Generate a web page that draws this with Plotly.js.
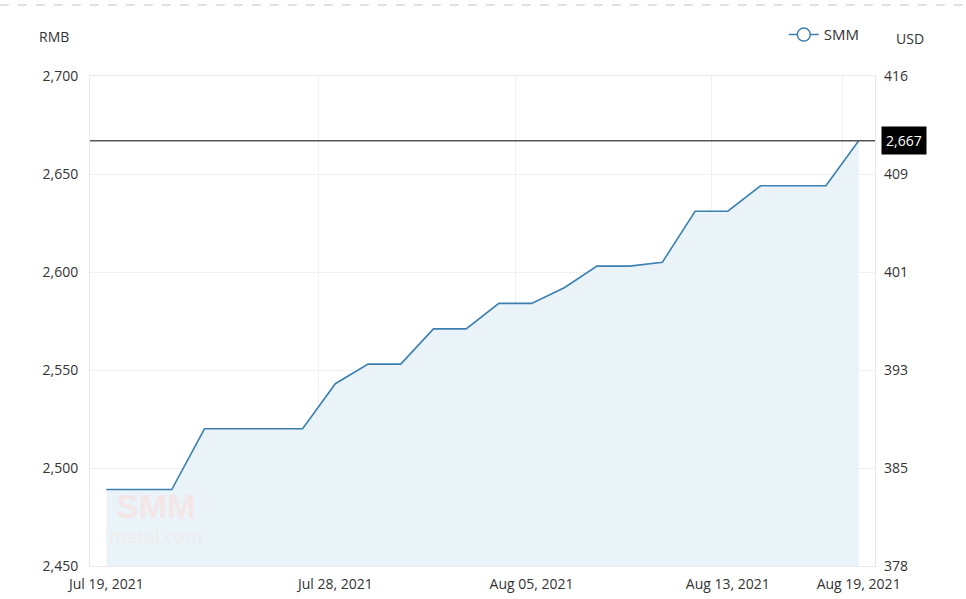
<!DOCTYPE html>
<html>
<head>
<meta charset="utf-8">
<script src="https://cdn.plot.ly/plotly-3.0.1.min.js"></script>
<style>html,body{margin:0;padding:0;background:#fff;}#chart{width:966px;height:599px;}</style>
</head>
<body>
<div id="chart"></div>
<script>
// Business days Jul 19 – Aug 19, 2021
var dates = [
  "2021-07-19","2021-07-20","2021-07-21","2021-07-22","2021-07-23",
  "2021-07-26","2021-07-27","2021-07-28","2021-07-29","2021-07-30",
  "2021-08-02","2021-08-03","2021-08-04","2021-08-05","2021-08-06",
  "2021-08-09","2021-08-10","2021-08-11","2021-08-12","2021-08-13",
  "2021-08-16","2021-08-17","2021-08-18","2021-08-19"
];
var smmPrices = [
  2489,2489,2489,2520,2520,
  2520,2520,2543,2553,2553,
  2571,2571,2584,2584,2592,
  2603,2603,2605,2631,2631,
  2644,2644,2644,2667
];
var xTickVals = ["2021-07-19","2021-07-28","2021-08-05","2021-08-13","2021-08-19"];
var xTickText = ["Jul 19, 2021","Jul 28, 2021","Aug 05, 2021","Aug 13, 2021","Aug 19, 2021"];
var rmbTicks = [2450,2500,2550,2600,2650,2700];
var usdTickText = ["378","385","393","401","409","416"];

var lastVal = smmPrices[smmPrices.length-1];
var lineColor = "#3b80b1";
var fam = "Open Sans, Noto Sans, sans-serif";
var font = {family: fam, size: 14, color: "#333"};

var traces = [
  {
    x: dates, y: smmPrices, type: "scatter", mode: "lines",
    line: {color: lineColor, width: 1.6},
    fill: "tozeroy", fillcolor: "#eaf3f7",
    showlegend: false, hoverinfo: "x+y"
  },
  {
    x: dates, y: smmPrices, yaxis: "y2", type: "scatter", mode: "lines",
    line: {color: "rgba(0,0,0,0)", width: 0},
    showlegend: false, hoverinfo: "skip"
  },
  {
    x: [null], y: [null], type: "scatter", mode: "lines+markers", name: "SMM",
    line: {color: lineColor, width: 1.5},
    marker: {symbol: "circle", size: 13, color: "#fff", line: {color: lineColor, width: 1.5}},
    showlegend: true
  }
];

var layout = {
  width: 966, height: 599,
  margin: {l: 90, r: 91, t: 76, b: 33, autoexpand: false},
  paper_bgcolor: "#fff", plot_bgcolor: "#fff",
  font: font,
  showlegend: true,
  legend: {
    orientation: "h", x: 0.987, xanchor: "right", y: 1.084, yanchor: "middle",
    font: {family: fam, size: 15, color: "#333"},
    bgcolor: "rgba(0,0,0,0)"
  },
  xaxis: {
    type: "category", categoryorder: "array", categoryarray: dates,
    range: [-0.5, dates.length - 0.5],
    tickmode: "array", tickvals: xTickVals, ticktext: xTickText,
    tickson: "boundaries", ticks: "", tickangle: 0,
    showgrid: true, gridcolor: "#f0f0f0", gridwidth: 1,
    showline: true, linecolor: "#e8e8e8", mirror: true,
    zeroline: false, ticklabelstandoff: 5,
    tickfont: {family: fam, size: 14, color: "#333"}
  },
  yaxis: {
    range: [2450, 2700], tickmode: "array", tickvals: rmbTicks,
    tickformat: ",d", ticks: "",
    showgrid: true, gridcolor: "#f0f0f0", gridwidth: 1,
    showline: true, linecolor: "#e8e8e8", mirror: true,
    zeroline: false, ticklabelstandoff: 8,
    tickfont: {family: fam, size: 14, color: "#333"}
  },
  yaxis2: {
    overlaying: "y", side: "right", range: [2450, 2700],
    tickmode: "array", tickvals: rmbTicks, ticktext: usdTickText,
    ticks: "", showgrid: false, zeroline: false, showline: false,
    ticklabelstandoff: 8,
    tickfont: {family: fam, size: 14, color: "#333"}
  },
  shapes: [
    {type: "line", xref: "paper", yref: "y", x0: 0, x1: 1, y0: lastVal, y1: lastVal,
     line: {color: "#555", width: 1.5}},
    {type: "line", xref: "paper", yref: "paper", x0: -0.115, x1: 1.116, y0: 1.145, y1: 1.145,
     line: {color: "#c4c4c4", width: 1, dash: "dash"}}
  ],
  annotations: [
    {xref: "paper", yref: "y", x: 1, y: lastVal, xanchor: "left", yanchor: "middle",
     xshift: 6, text: lastVal.toLocaleString("en-US"), showarrow: false,
     bgcolor: "#000", borderpad: 4,
     font: {family: fam, size: 14, color: "#fff"}},
    {xref: "paper", yref: "paper", x: -0.046, y: 1.08, xanchor: "center", yanchor: "middle",
     text: "RMB", showarrow: false, font: {family: fam, size: 14, color: "#333"}},
    {xref: "paper", yref: "paper", x: 1.044, y: 1.076, xanchor: "center", yanchor: "middle",
     text: "USD", showarrow: false, font: {family: fam, size: 14, color: "#333"}},
    {xref: "paper", yref: "paper", x: 0.084, y: 0.098, xanchor: "center", yanchor: "middle",
     text: "<span style='font-size:34px;font-weight:900;font-family:Liberation Sans'>SMM</span><br><span style='font-size:19px;color:#f0ebed'>metal.com</span>",
     showarrow: false, align: "center",
     font: {family: fam, size: 19, color: "#f4e6e7"}}
  ]
};

Plotly.newPlot("chart", traces, layout, {displayModeBar: false});
</script>
</body>
</html>
